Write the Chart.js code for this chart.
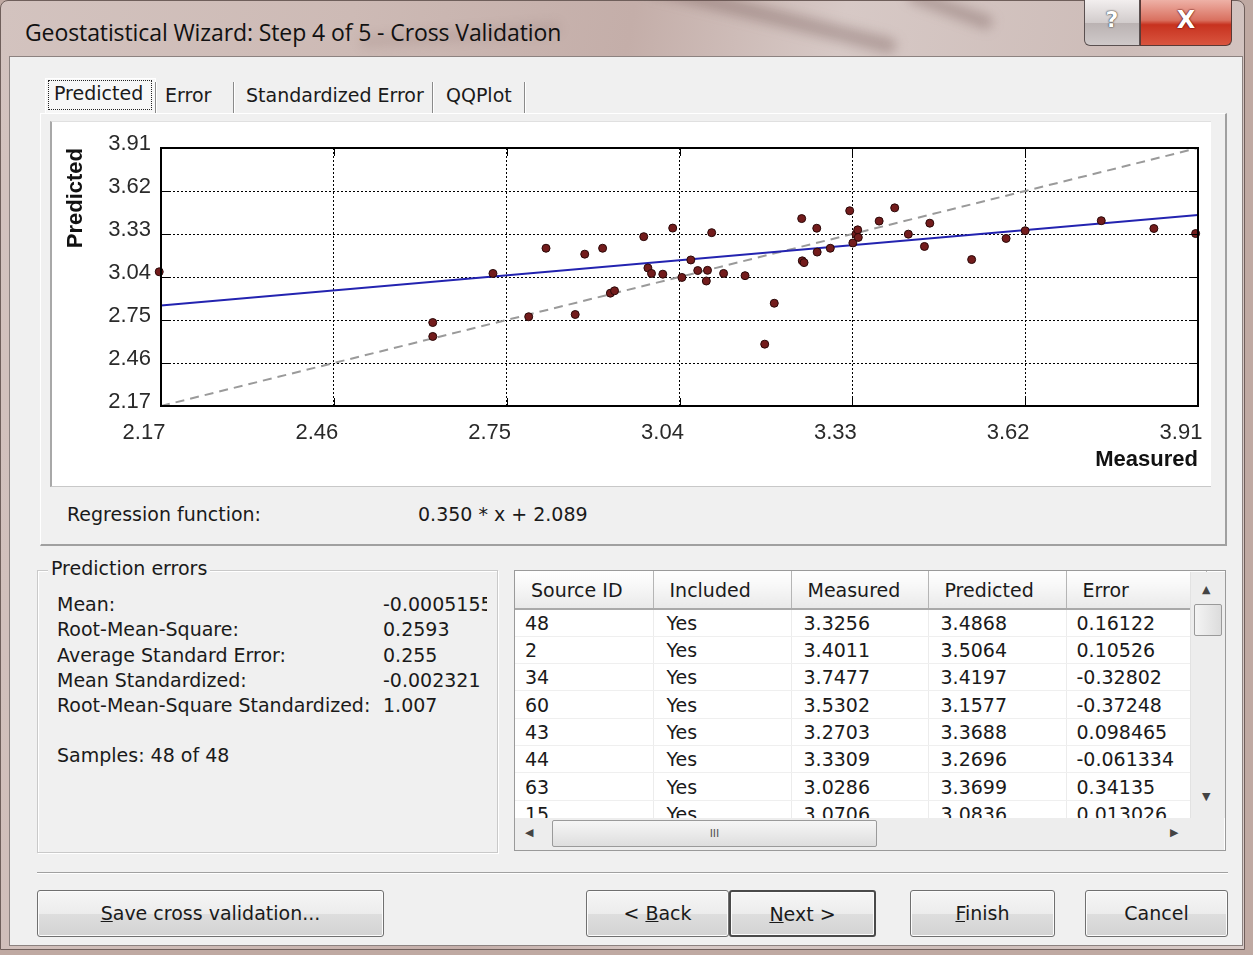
<!DOCTYPE html>
<html>
<head>
<meta charset="utf-8">
<title>Geostatistical Wizard: Step 4 of 5 - Cross Validation</title>
<script src="https://cdn.jsdelivr.net/npm/chart.js@4.4.1/dist/chart.umd.min.js"></script>
<style>
  html, body { margin: 0; padding: 0; }
  body {
    width: 1253px; height: 955px; position: relative; overflow: hidden;
    background: #bfa9a2;
    font-family: "DejaVu Sans", "Noto Sans", sans-serif;
    color: #1a1a1a;
  }
  .abs { position: absolute; }
  #frame {
    left: 0; top: 0; width: 1245px; height: 950px;
    background: linear-gradient(100deg, #d3c3bf 0%, #cdbab5 25%, #c4aea9 45%, #d7c9c6 60%, #cdbcb8 80%, #d9ccc9 100%);
    border-radius: 8px 8px 0 0;
    border: 1px solid #6f5f5b;
    box-sizing: border-box;
  }
  .streak { position: absolute; background: rgba(110,80,78,0.35); filter: blur(6px); border-radius: 20px; }
  #titleText { left: 25px; top: 16px; font-family: "Open Sans", "Noto Sans", sans-serif; font-size: 23px; color: #111; letter-spacing: -0.1px; }
  #helpBtn {
    left: 1084px; top: 0; width: 56px; height: 46px;
    background: linear-gradient(#f2eeee, #d2cccc 50%, #bab2b2 51%, #cfc9c9);
    border: 1px solid #5a5050; border-top: none; border-radius: 0 0 0 6px; box-sizing: border-box;
    font: bold 22px "DejaVu Sans", sans-serif; color: #fff; text-align: center; line-height: 40px;
    text-shadow: 0 0 2px #333, 0 0 1px #333;
  }
  #closeBtn {
    left: 1140px; top: 0; width: 92px; height: 46px;
    background: linear-gradient(#eeb1a6, #d9705f 45%, #c7321f 55%, #d9553f);
    border: 1px solid #5a3a36; border-top: none; border-radius: 0 0 6px 0; box-sizing: border-box;
    font: bold 24px "DejaVu Sans", sans-serif; color: #fff; text-align: center; line-height: 40px;
    text-shadow: 0 0 2px #500, 0 0 1px #500;
  }
  #client {
    left: 9px; top: 56px; width: 1234px; height: 890px;
    background: #f0f0f0; border: 1px solid #8c8280; box-sizing: border-box;
  }
  .tab { position: absolute; top: 78px; height: 35px; font-size: 19px; line-height: 35px; color: #1a1a1a; }
  .tabsep { position: absolute; top: 82px; width: 1px; height: 32px; background: #8a8a8a; box-shadow: 1px 0 0 #fff; }
  #tabPage {
    left: 40px; top: 113px; width: 1187px; height: 433px;
    border-top: 1px solid #fff; border-left: 1px solid #fff;
    border-right: 2px solid #a0a0a0; border-bottom: 2px solid #a0a0a0; box-sizing: border-box;
  }
  #chartPanel {
    left: 50px; top: 121px; width: 1161px; height: 366px;
    background: #fff; border-left: 2px solid #a8a8a8; border-top: 1px solid #e0e0e0; border-bottom: 1px solid #c8c8c8; box-sizing: border-box;
  }
  #plot { left: 52px; top: 122px; }
  .lbl { position: absolute; font-size: 19px; white-space: nowrap; color: #1a1a1a; }
  #group {
    left: 37px; top: 570px; width: 461px; height: 283px;
    border: 1px solid #c9c9c9; box-shadow: inset 1px 1px 0 #fff, 1px 1px 0 #fff; box-sizing: border-box; overflow: hidden;
  }
  #groupTitle { left: 48px; top: 557px; background: #f0f0f0; padding: 0 3px; font-size: 19px; }
  #tableBox {
    left: 514px; top: 570px; width: 712px; height: 281px;
    background: #fff; border: 1px solid #9a9a9a; box-sizing: border-box; overflow: hidden;
  }
  table { border-collapse: collapse; position: absolute; left: 0; top: 0; font-size: 19px; table-layout: fixed; }
  th { font-weight: normal; text-align: left; height: 38px; padding: 0 0 0 16px; background: linear-gradient(#ffffff, #f3f3f3 60%, #e9e9e9); border-right: 1px solid #b5b5b5; border-bottom: 2px solid #a9a9a9; box-sizing: border-box; }
  td { height: 27.33px; padding: 0 0 0 10px; border-right: 1px solid #ececec; border-bottom: 1px solid #efefef; box-sizing: border-box; white-space: nowrap; }
  #vscroll { left: 1190px; top: 572px; width: 34px; height: 246px; background: #ededed; border-left: 1px solid #e2e2e2; }
  #vthumb { left: 1194px; top: 604px; width: 28px; height: 32px; background: linear-gradient(90deg, #f4f4f4, #dcdcdc); border: 1px solid #9a9a9a; border-radius: 2px; box-sizing: border-box; }
  #hscroll { left: 515px; top: 818px; width: 709px; height: 32px; background: #ededed; }
  #hthumb { left: 552px; top: 820px; width: 325px; height: 27px; background: linear-gradient(#f6f6f6, #dedede); border: 1px solid #9a9a9a; border-radius: 2px; box-sizing: border-box; text-align: center; font-size: 11px; line-height: 25px; color: #555; }
  .arrow { position: absolute; font-size: 11px; color: #444; }
  #separator { left: 37px; top: 872px; width: 1191px; height: 1px; background: #a0a0a0; box-shadow: 0 1px 0 #fff; }
  .btn {
    position: absolute; top: 890px; height: 47px; box-sizing: border-box;
    background: linear-gradient(#f6f6f6, #ececec 50%, #dedede 51%, #d3d3d3);
    border: 1px solid #707070; border-radius: 3px; box-shadow: inset 0 0 0 1px #fcfcfc;
    font-size: 19px; text-align: center; line-height: 45px; color: #1a1a1a;
  }
  .btn.def { border: 2px solid #4a4a4a; }
  .btn u { text-decoration: underline; }
</style>
</head>
<body>
<div id="frame" class="abs"></div>
<div class="streak" style="left:640px; top:8px; width:260px; height:16px; transform:rotate(14deg);"></div>
<div class="streak" style="left:905px; top:2px; width:90px; height:14px; transform:rotate(20deg);"></div>
<div class="streak" style="left:360px; top:30px; width:200px; height:10px; transform:rotate(-4deg); opacity:0.5;"></div>
<div id="titleText" class="abs">Geostatistical Wizard: Step 4 of 5 - Cross Validation</div>
<div id="helpBtn" class="abs">?</div>
<div id="closeBtn" class="abs">X</div>

<div id="client" class="abs"></div>

<!-- tab strip -->
<div class="tab" style="left:45px; width:111px; background:#f7f7f7; border:1px solid #fff; border-bottom:none; box-sizing:border-box;"></div>
<div class="tab" style="left:48px; top:80px; height:30px; width:104px; border:1px dotted #222; box-sizing:border-box;"></div>
<div class="tab" style="left:54px; top:76px;">Predicted</div>
<div class="tabsep" style="left:155px;"></div>
<div class="tab" style="left:165px;">Error</div>
<div class="tabsep" style="left:233px;"></div>
<div class="tab" style="left:246px;">Standardized Error</div>
<div class="tabsep" style="left:432px;"></div>
<div class="tab" style="left:446px;">QQPlot</div>
<div class="tabsep" style="left:524px;"></div>

<div id="tabPage" class="abs"></div>
<div id="chartPanel" class="abs"></div>
<canvas id="plot" class="abs" width="1158" height="363" style="width:1158px;height:363px;"></canvas>

<div class="lbl" style="left:67px; top:503px;">Regression function:</div>
<div class="lbl" id="regText" style="left:418px; top:503px;"></div>

<!-- prediction errors group -->
<div id="group" class="abs"></div>
<div id="groupTitle" class="abs">Prediction errors</div>
<div id="stats"></div>

<!-- cross validation table -->
<div id="tableBox" class="abs"><table id="cvTable"></table></div>
<div id="vscroll" class="abs"></div>
<div class="arrow" style="left:1202px; top:583px;">&#9650;</div>
<div id="vthumb" class="abs"></div>
<div class="arrow" style="left:1202px; top:790px;">&#9660;</div>
<div id="hscroll" class="abs"></div>
<div class="arrow" style="left:525px; top:826px;">&#9664;</div>
<div id="hthumb" class="abs">III</div>
<div class="arrow" style="left:1170px; top:826px;">&#9654;</div>

<div id="separator" class="abs"></div>
<div class="btn" style="left:37px; width:347px;"><u>S</u>ave cross validation...</div>
<div class="btn" style="left:586px; width:143px;">&lt; <u>B</u>ack</div>
<div class="btn def" style="left:729px; width:147px;"><u>N</u>ext &gt;</div>
<div class="btn" style="left:910px; width:145px;"><u>F</u>inish</div>
<div class="btn" style="left:1085px; width:143px;">Cancel</div>

<script>
// Cross-validation samples: measured value and its leave-one-out prediction.
const measured = [
  2.167, 2.626, 2.626, 2.727, 2.787, 2.816, 2.865, 2.881, 2.911, 2.924,
  2.931, 2.980, 2.987, 2.993, 3.012, 3.0286, 3.044, 3.059, 3.0706, 3.085,
  3.087, 3.094, 3.114, 3.150, 3.183, 3.199, 3.245, 3.246, 3.249, 3.2703,
  3.271, 3.293, 3.3256, 3.3309, 3.336, 3.339, 3.340, 3.375, 3.4011, 3.424,
  3.451, 3.460, 3.5302, 3.588, 3.620, 3.7477, 3.836, 3.906
];
const predicted = [
  3.075, 2.733, 2.639, 3.064, 2.772, 3.234, 2.787, 3.194, 3.234, 2.931,
  2.947, 3.312, 3.101, 3.064, 3.059, 3.3699, 3.037, 3.155, 3.0836, 3.013,
  3.085, 3.339, 3.064, 3.049, 2.587, 2.863, 3.434, 3.149, 3.137, 3.3688,
  3.208, 3.234, 3.4868, 3.2696, 3.329, 3.358, 3.307, 3.417, 3.5064, 3.329,
  3.246, 3.403, 3.1577, 3.300, 3.352, 3.4197, 3.367, 3.333
];

// Axis ticks shared by both axes.
const axisTicks = [2.17, 2.46, 2.75, 3.04, 3.33, 3.62, 3.91];

// Fitted regression (predicted = slope * measured + intercept).
const regSlope = 0.350;
const regIntercept = 2.089;

// Summary statistics of the prediction errors.
const statLabels = ["Mean:", "Root-Mean-Square:", "Average Standard Error:", "Mean Standardized:", "Root-Mean-Square Standardized:"];
const statValues = ["-0.0005155", "0.2593", "0.255", "-0.002321", "1.007"];
const sampleText = "Samples: 48 of 48";

// Rows listed in the table.
const tableColumns = ["Source ID", "Included", "Measured", "Predicted", "Error"];
const tableIds = ["48", "2", "34", "60", "43", "44", "63", "15"];
const tableIncluded = ["Yes", "Yes", "Yes", "Yes", "Yes", "Yes", "Yes", "Yes"];
const tableMeasured = ["3.3256", "3.4011", "3.7477", "3.5302", "3.2703", "3.3309", "3.0286", "3.0706"];
const tablePredicted = ["3.4868", "3.5064", "3.4197", "3.1577", "3.3688", "3.2696", "3.3699", "3.0836"];
const tableErrors = ["0.16122", "0.10526", "-0.32802", "-0.37248", "0.098465", "-0.061334", "0.34135", "0.013026"];

// ---- text panels ----
document.getElementById('regText').textContent =
  regSlope.toFixed(3) + ' * x + ' + regIntercept.toFixed(3);

const stats = document.getElementById('stats');
statLabels.forEach((t, i) => {
  const a = document.createElement('div');
  a.className = 'lbl'; a.style.left = '57px'; a.style.top = (593 + i * 25.3) + 'px'; a.textContent = t;
  const b = document.createElement('div');
  b.className = 'lbl'; b.style.left = '383px'; b.style.top = (593 + i * 25.3) + 'px'; b.textContent = statValues[i];
  b.style.width = '104px'; b.style.overflow = 'hidden';
  stats.appendChild(a); stats.appendChild(b);
});
const s = document.createElement('div');
s.className = 'lbl'; s.style.left = '57px'; s.style.top = '744px'; s.textContent = sampleText;
stats.appendChild(s);

const colWidths = [138, 138, 137, 138, 140];
const tbl = document.getElementById('cvTable');
let html = '<colgroup>' + colWidths.map(w => '<col style="width:' + w + 'px">').join('') + '</colgroup><tr>';
tableColumns.forEach(c => { html += '<th>' + c + '</th>'; });
html += '</tr>';
tableIds.forEach((id, i) => {
  html += '<tr><td>' + id + '</td><td style="padding-left:13px">' + tableIncluded[i] + '</td><td style="padding-left:12px">' + tableMeasured[i] +
          '</td><td style="padding-left:12px">' + tablePredicted[i] + '</td><td style="padding-left:10px">' + tableErrors[i] + '</td></tr>';
});
tbl.innerHTML = html;

// ---- chart ----
const xMin = axisTicks[0], xMax = axisTicks[axisTicks.length - 1];
const regLine = [
  { x: xMin, y: regSlope * xMin + regIntercept },
  { x: xMax, y: regSlope * xMax + regIntercept }
];
const refLine = [ { x: xMin, y: xMin }, { x: xMax, y: xMax } ];
const points = measured.map((m, i) => ({ x: m, y: predicted[i] }));

// Solid frame around the plot area plus short inward tick marks at each gridline.
const framePlugin = {
  id: 'frame',
  afterDatasetsDraw(chart) {
    const { ctx, chartArea: a, scales } = chart;
    ctx.save();
    ctx.strokeStyle = '#000';
    ctx.lineWidth = 1;
    ctx.beginPath();
    axisTicks.forEach(v => {
      const x = Math.round(scales.x.getPixelForValue(v)) + 0.5;
      ctx.moveTo(x, a.bottom); ctx.lineTo(x, a.bottom - 8);
      ctx.moveTo(x, a.top); ctx.lineTo(x, a.top + 8);
      const y = Math.round(scales.y.getPixelForValue(v)) + 0.5;
      ctx.moveTo(a.left, y); ctx.lineTo(a.left + 8, y);
      ctx.moveTo(a.right, y); ctx.lineTo(a.right - 8, y);
    });
    ctx.stroke();
    ctx.lineWidth = 2;
    ctx.strokeRect(a.left, a.top, a.right - a.left, a.bottom - a.top);
    ctx.restore();
  }
};

const tickFont = { family: '"Liberation Sans", Arial, sans-serif', size: 22 };
const titleFont = { family: '"Liberation Sans", Arial, sans-serif', size: 22, weight: 'bold' };

new Chart(document.getElementById('plot'), {
  type: 'scatter',
  data: {
    datasets: [
      {
        label: 'Samples',
        data: points,
        order: 0,
        pointRadius: 4,
        pointBackgroundColor: '#731c1c',
        pointBorderColor: '#2a0808',
        pointBorderWidth: 1,
        clip: false
      },
      {
        label: 'Regression',
        type: 'line',
        data: regLine,
        order: 1,
        borderColor: '#2323b0',
        borderWidth: 2,
        pointRadius: 0,
        fill: false
      },
      {
        label: 'Reference',
        type: 'line',
        data: refLine,
        order: 2,
        borderColor: '#9a9a9a',
        borderWidth: 2,
        borderDash: [9, 6],
        pointRadius: 0,
        fill: false
      }
    ]
  },
  options: {
    responsive: false,
    animation: false,
    events: [],
    layout: { padding: { left: 0, top: 26, right: 12, bottom: 0 } },
    plugins: { legend: { display: false }, tooltip: { enabled: false } },
    scales: {
      x: {
        type: 'linear',
        min: xMin, max: xMax,
        afterBuildTicks: sc => { sc.ticks = axisTicks.map(v => ({ value: v })); },
        afterFit: sc => { sc.height = 79; sc.paddingLeft = 0; sc.paddingRight = 0; },
        grid: { color: '#000', lineWidth: 1, drawTicks: false },
        border: { display: false, dash: [2, 2] },
        ticks: { font: tickFont, color: '#2a2a2a', padding: 14, maxRotation: 0, labelOffset: -17,
                 callback: v => Number(v).toFixed(2) },
        title: { display: true, text: 'Measured', align: 'end', font: titleFont, color: '#111',
                 padding: { top: 0, bottom: 12 } }
      },
      y: {
        type: 'linear',
        min: xMin, max: xMax,
        afterBuildTicks: sc => { sc.ticks = axisTicks.map(v => ({ value: v })); },
        afterFit: sc => { sc.width = 109; sc.paddingTop = 0; sc.paddingBottom = 0; },
        grid: { color: '#000', lineWidth: 1, drawTicks: false },
        border: { display: false, dash: [2, 2] },
        ticks: { font: tickFont, color: '#2a2a2a', padding: 10, labelOffset: -4,
                 callback: v => Number(v).toFixed(2) },
        title: { display: true, text: 'Predicted', align: 'end', font: titleFont, color: '#111',
                 padding: { top: 11, bottom: 0 } }
      }
    }
  },
  plugins: [framePlugin]
});
</script>
</body>
</html>
